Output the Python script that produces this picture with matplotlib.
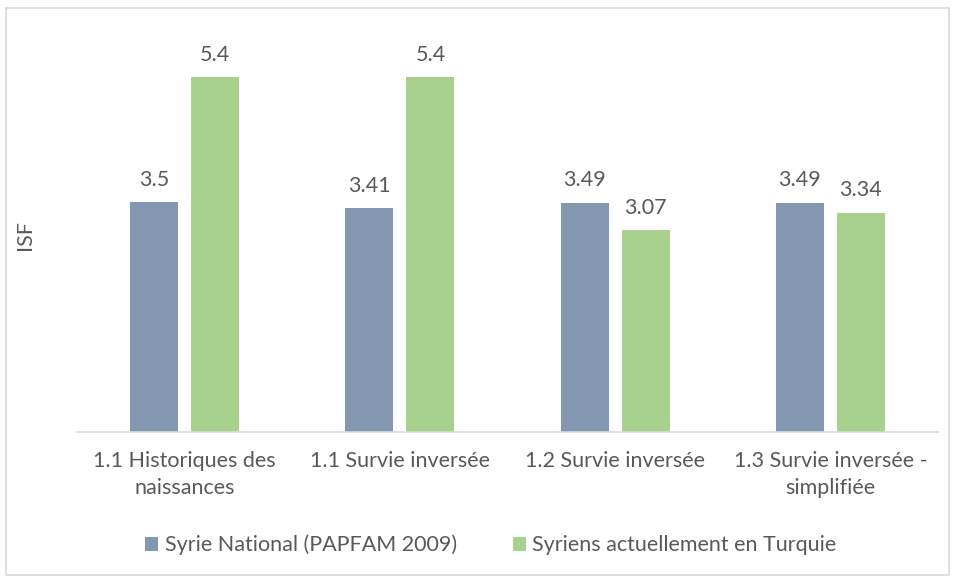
import matplotlib
matplotlib.use("Agg")
import matplotlib.pyplot as plt
import numpy as np
from matplotlib.patches import Rectangle

plt.rcParams['font.family'] = ['Lato', 'DejaVu Sans']

categories = ["1.1 Historiques des\nnaissances", "1.1 Survie inversée",
              "1.2 Survie inversée", "1.3 Survie inversée -\nsimplifiée"]
syrie_national = [3.5, 3.41, 3.49, 3.49]
syriens_turquie = [5.4, 5.4, 3.07, 3.34]
labels_national = ["3.5", "3.41", "3.49", "3.49"]
labels_turquie = ["5.4", "5.4", "3.07", "3.34"]
series_names = ["Syrie National (PAPFAM 2009)", "Syriens actuellement en Turquie"]

c_blue = "#8497B0"
c_green = "#A9D18E"
txt = "#595959"
fs = 15.5

W, H = 954, 579
fig = plt.figure(figsize=(W/100, H/100), dpi=100)
ax = fig.add_axes([77/W, 1-432/H, (938-77)/W, (432-38)/H])

x = np.arange(len(categories))
bw = 0.223
off = 0.142
b1 = ax.bar(x - off, syrie_national, bw, color=c_blue)
b2 = ax.bar(x + off, syriens_turquie, bw, color=c_green)
for bars, labs in ((b1, labels_national), (b2, labels_turquie)):
    for r, l in zip(bars, labs):
        ax.annotate(l, (r.get_x() + r.get_width()/2, r.get_height()),
                    xytext=(0, 9), textcoords="offset points",
                    ha="center", va="bottom", fontsize=fs, color=txt)

ax.set_xlim(-0.5, len(categories) - 0.5)
ax.set_ylim(0, 6)
ax.set_yticks([])
ax.set_xticks(x)
ax.set_xticklabels(categories, fontsize=fs, color=txt, linespacing=1.4)
ax.tick_params(axis='x', length=0, pad=14)
for s in ("top", "right", "left"):
    ax.spines[s].set_visible(False)
ax.spines["bottom"].set_color("#D9D9D9")
ax.spines["bottom"].set_linewidth(1.2)
ax.set_ylabel("ISF", fontsize=fs, color=txt)
ax.yaxis.set_label_coords(-42/(938-77), 0.5)

leg = fig.legend([b1, b2], series_names, loc="center", bbox_to_anchor=(491/W, 1-545/H),
                 ncol=2, frameon=False, fontsize=fs, handlelength=0.6, handleheight=0.6,
                 handletextpad=0.3, columnspacing=2.6, labelcolor=txt)

fig.patches.append(Rectangle((6/W, 4/H), (949-6)/W, (571-4)/H, transform=fig.transFigure,
                             fill=False, edgecolor="#D9D9D9", linewidth=1.2))

fig.savefig("out.png", dpi=100)
